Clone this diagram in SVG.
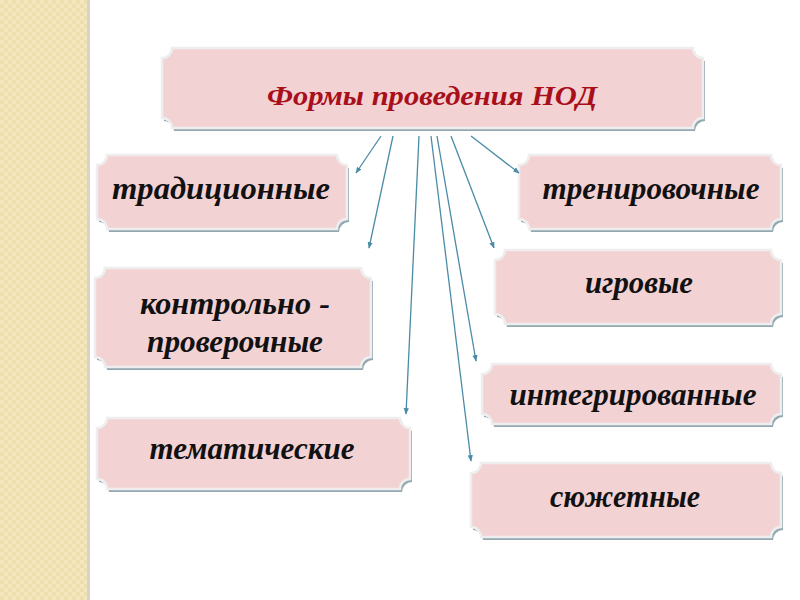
<svg xmlns="http://www.w3.org/2000/svg" width="800" height="600" viewBox="0 0 800 600">
<defs>
<pattern id="weave" width="8" height="8" patternUnits="userSpaceOnUse">
<rect width="8" height="8" fill="#F0DFAE"/>
<rect x="0" y="0" width="4" height="4" fill="#F4E6BE"/>
<rect x="4" y="4" width="4" height="4" fill="#F4E6BE"/>
</pattern>
<marker id="ah" viewBox="0 0 10 10" refX="9" refY="5" markerWidth="5" markerHeight="5" orient="auto" markerUnits="strokeWidth">
<path d="M0,1 L10,5 L0,9 Z" fill="#4A8BA6"/>
</marker>
</defs>
<style>
.shadow{fill:#93A8B0;}
.box{fill:#F3D2D4;stroke:#EEEEEE;stroke-width:2.5;}
.lbl{font-family:"Liberation Serif","Times New Roman",serif;font-weight:bold;font-style:italic;font-size:31px;fill:#111111;text-anchor:middle;}
.title{font-family:"Liberation Serif","Times New Roman",serif;font-weight:bold;font-style:italic;font-size:28px;fill:#A80F1A;text-anchor:middle;}
.conn line{stroke:#4A8BA6;stroke-width:1.3;marker-end:url(#ah);}
</style>
<rect width="800" height="600" fill="#FFFFFF"/>
<rect x="0" y="0" width="88" height="600" fill="url(#weave)"/>
<rect x="87" y="0" width="3" height="600" fill="#D9D3C3"/>

<g id="node-title">
<path class="shadow" transform="translate(2,3)" d="M172,48 H693 A10 10 0 0 0 703,58 V118 A10 10 0 0 0 693,128 H172 A10 10 0 0 0 162,118 V58 A10 10 0 0 0 172,48 Z"/>
<path class="box" d="M172,48 H693 A10 10 0 0 0 703,58 V118 A10 10 0 0 0 693,128 H172 A10 10 0 0 0 162,118 V58 A10 10 0 0 0 172,48 Z"/>
<text class="title" x="432" y="105" textLength="330" lengthAdjust="spacingAndGlyphs">Формы проведения НОД</text>
</g>

<g id="node-traditsionnye">
<path class="shadow" transform="translate(2,3)" d="M107,155 H337 A10 10 0 0 0 347,165 V219 A10 10 0 0 0 337,229 H107 A10 10 0 0 0 97,219 V165 A10 10 0 0 0 107,155 Z"/>
<path class="box" d="M107,155 H337 A10 10 0 0 0 347,165 V219 A10 10 0 0 0 337,229 H107 A10 10 0 0 0 97,219 V165 A10 10 0 0 0 107,155 Z"/>
<text class="lbl" x="221" y="199" textLength="218" lengthAdjust="spacingAndGlyphs">традиционные</text>
</g>

<g id="node-trenirovochnye">
<path class="shadow" transform="translate(2,3)" d="M529,155 H771 A10 10 0 0 0 781,165 V219 A10 10 0 0 0 771,229 H529 A10 10 0 0 0 519,219 V165 A10 10 0 0 0 529,155 Z"/>
<path class="box" d="M529,155 H771 A10 10 0 0 0 781,165 V219 A10 10 0 0 0 771,229 H529 A10 10 0 0 0 519,219 V165 A10 10 0 0 0 529,155 Z"/>
<text class="lbl" x="651" y="199" textLength="217" lengthAdjust="spacingAndGlyphs">тренировочные</text>
</g>

<g id="node-igrovye">
<path class="shadow" transform="translate(2,3)" d="M505,250 H771 A10 10 0 0 0 781,260 V314 A10 10 0 0 0 771,324 H505 A10 10 0 0 0 495,314 V260 A10 10 0 0 0 505,250 Z"/>
<path class="box" d="M505,250 H771 A10 10 0 0 0 781,260 V314 A10 10 0 0 0 771,324 H505 A10 10 0 0 0 495,314 V260 A10 10 0 0 0 505,250 Z"/>
<text class="lbl" x="639" y="293" textLength="108" lengthAdjust="spacingAndGlyphs">игровые</text>
</g>

<g id="node-kontrolno">
<path class="shadow" transform="translate(2,3)" d="M105,268 H361 A10 10 0 0 0 371,278 V357 A10 10 0 0 0 361,367 H105 A10 10 0 0 0 95,357 V278 A10 10 0 0 0 105,268 Z"/>
<path class="box" d="M105,268 H361 A10 10 0 0 0 371,278 V357 A10 10 0 0 0 361,367 H105 A10 10 0 0 0 95,357 V278 A10 10 0 0 0 105,268 Z"/>
<text class="lbl" x="235" y="314" textLength="190" lengthAdjust="spacingAndGlyphs">контрольно -</text>
<text class="lbl" x="235" y="352" textLength="176" lengthAdjust="spacingAndGlyphs">проверочные</text>
</g>

<g id="node-integrirovannye">
<path class="shadow" transform="translate(2,3)" d="M492,364 H771 A10 10 0 0 0 781,374 V414 A10 10 0 0 0 771,424 H492 A10 10 0 0 0 482,414 V374 A10 10 0 0 0 492,364 Z"/>
<path class="box" d="M492,364 H771 A10 10 0 0 0 781,374 V414 A10 10 0 0 0 771,424 H492 A10 10 0 0 0 482,414 V374 A10 10 0 0 0 492,364 Z"/>
<text class="lbl" x="633" y="405" textLength="247" lengthAdjust="spacingAndGlyphs">интегрированные</text>
</g>

<g id="node-tematicheskie">
<path class="shadow" transform="translate(2,3)" d="M107,418 H400 A10 10 0 0 0 410,428 V479 A10 10 0 0 0 400,489 H107 A10 10 0 0 0 97,479 V428 A10 10 0 0 0 107,418 Z"/>
<path class="box" d="M107,418 H400 A10 10 0 0 0 410,428 V479 A10 10 0 0 0 400,489 H107 A10 10 0 0 0 97,479 V428 A10 10 0 0 0 107,418 Z"/>
<text class="lbl" x="252" y="459" textLength="205" lengthAdjust="spacingAndGlyphs">тематические</text>
</g>

<g id="node-syuzhetnye">
<path class="shadow" transform="translate(2,3)" d="M481,463 H771 A10 10 0 0 0 781,473 V527 A10 10 0 0 0 771,537 H481 A10 10 0 0 0 471,527 V473 A10 10 0 0 0 481,463 Z"/>
<path class="box" d="M481,463 H771 A10 10 0 0 0 781,473 V527 A10 10 0 0 0 771,537 H481 A10 10 0 0 0 471,527 V473 A10 10 0 0 0 481,463 Z"/>
<text class="lbl" x="625" y="507" textLength="150" lengthAdjust="spacingAndGlyphs">сюжетные</text>
</g>

<g id="connectors" class="conn">
<line x1="381" y1="136" x2="356" y2="173"/>
<line x1="393" y1="136" x2="369" y2="248"/>
<line x1="419" y1="136" x2="406" y2="414"/>
<line x1="431" y1="136" x2="471" y2="461"/>
<line x1="437" y1="136" x2="476" y2="361"/>
<line x1="451" y1="136" x2="494" y2="248"/>
<line x1="471" y1="136" x2="519" y2="173"/>
</g>
</svg>
